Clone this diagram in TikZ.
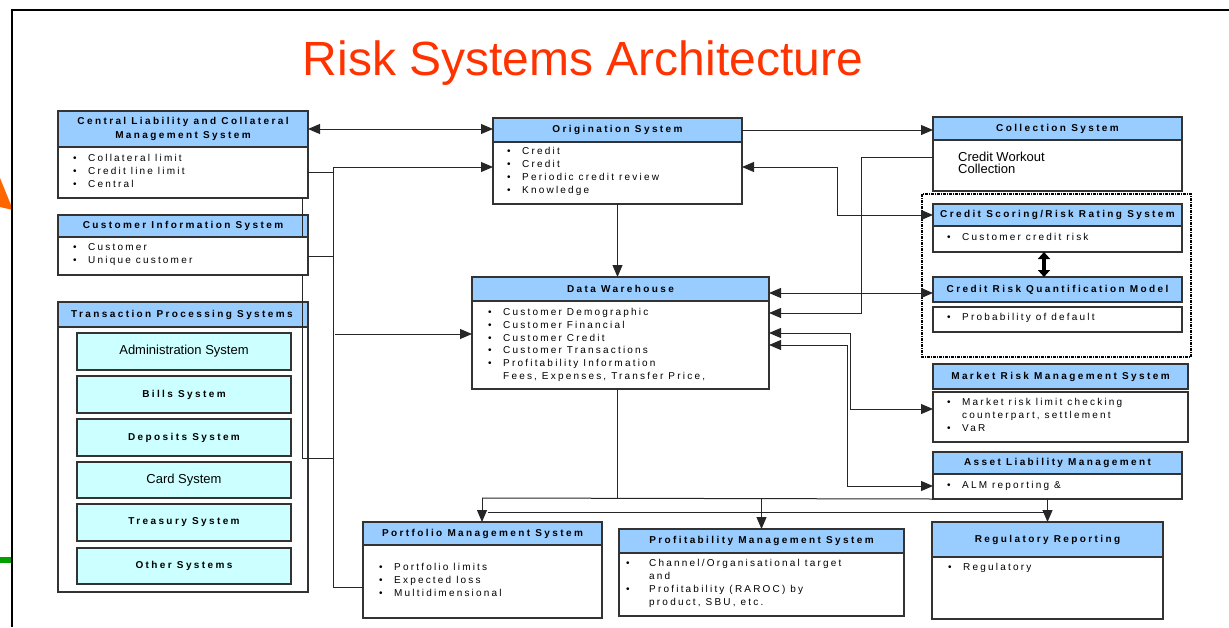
\documentclass[tikz,border=0pt]{standalone}
\usepackage{fontspec}
\setmainfont{Liberation Sans}
\newfontfamily\bodyfont[LetterSpace=22]{Liberation Sans}
\newfontfamily\headfont[LetterSpace=24]{Liberation Sans}
\usetikzlibrary{arrows.meta,calc}
\definecolor{hdrblue}{HTML}{99CCFF}
\definecolor{tpscyan}{HTML}{CCFFFF}
\definecolor{titlered}{HTML}{FF3300}
\definecolor{tabOrange}{HTML}{FF6600}
\definecolor{tabGreen}{HTML}{00A000}
\definecolor{edge}{HTML}{333333}
% bullet, continuation indent and first-line strut for the item lists
\newcommand\bul[1][15pt]{\makebox[#1][l]{•}}
\newcommand\cnt[1][15pt]{\hspace*{#1}}
\newcommand\fl{\rule{0pt}{8pt}}
\tikzset{
  hd/.style={draw=edge, fill=hdrblue, line width=1.2pt, inner sep=0pt, outer sep=0pt,
    anchor=north west, align=center, font=\headfont\bfseries\fontsize{10}{14}\selectfont},
  bd/.style={draw=edge, fill=white, line width=1.2pt, inner sep=0pt, outer sep=0pt, anchor=north west},
  sub/.style={draw=edge, fill=tpscyan, line width=1.2pt, inner sep=0pt, outer sep=0pt,
    anchor=north west, minimum width=214pt},
  subbold/.style={font=\headfont\bfseries\fontsize{10}{10}\selectfont},
  subplain/.style={font=\fontsize{13}{13}\selectfont},
  items/.style={anchor=north west, inner sep=0pt, align=left, text=black,
    font=\bodyfont\fontsize{10}{13}\selectfont},
  conn/.style={draw=black!85, line width=1pt},
  arr/.style={conn, -{Triangle[length=12pt,width=10pt]}},
  darr/.style={conn, {Triangle[length=12pt,width=10pt]}-{Triangle[length=12pt,width=10pt]}},
  fat/.style={draw=black, line width=3.5pt, {Triangle[length=7pt,width=12pt]}-{Triangle[length=7pt,width=12pt]}}
}
\begin{document}
\begin{tikzpicture}[x=1pt,y=-1pt]
\useasboundingbox (0,0) rectangle (1229,627);

% slide frame and side tabs
\fill[tabOrange] (0,178) -- (13,210) -- (0,207) -- cycle;
\fill[tabGreen] (0,557) rectangle (12,563);
\draw[line width=2.2pt] (12,627) -- (12,10) -- (1229,10);

\node[anchor=base, inner sep=0pt, text=titlered, font=\fontsize{48}{48}\selectfont] (title) at (583,75) {Risk Systems Architecture};

% Central Liability and Collateral Management System
\node[hd, minimum width=250pt, minimum height=36pt] (clh) at (58,111) {Central Liability and Collateral\\Management System};
\node[bd, minimum width=250pt, minimum height=51pt] (clb) at (58,147) {};
\node[items] (clt) at (73,153.5) {\fl\bul Collateral limit\\ \bul Credit line limit\\ \bul Central};

% Customer Information System
\node[hd, minimum width=250pt, minimum height=22pt] (cish) at (58,215) {Customer Information System};
\node[bd, minimum width=250pt, minimum height=38pt] (cisb) at (58,237) {};
\node[items] (cist) at (73,242.5) {\fl\bul Customer\\ \bul Unique customer};

% Transaction Processing Systems
\node[bd, minimum width=250pt, minimum height=265pt] (tpsb) at (58,327) {};
\node[hd, minimum width=250pt, minimum height=25pt] (tpsh) at (58,302) {};
\node[anchor=west, inner sep=0pt, font=\headfont\bfseries\fontsize{10}{10}\selectfont] (tpst) at (71,314.5) {Transaction Processing Systems};
\node[sub, minimum height=37pt, subplain] (adm) at (77,333) {Administration System};
\node[sub, minimum height=37pt, subbold] (bil) at (77,376) {Bills System};
\node[sub, minimum height=37pt, subbold] (dep) at (77,419) {Deposits System};
\node[sub, minimum height=36pt, subplain] (crd) at (77,462) {Card System};
\node[sub, minimum height=37pt, subbold] (tre) at (77,504) {Treasury System};
\node[sub, minimum height=36pt, subbold] (oth) at (77,548) {Other Systems};

% Origination System
\node[hd, minimum width=249pt, minimum height=24pt] (osh) at (493,118) {Origination System};
\node[bd, minimum width=249pt, minimum height=62pt] (osb) at (493,142) {};
\node[items] (ost) at (507,146.5) {\fl\bul Credit\\ \bul Credit\\ \bul Periodic credit review\\ \bul Knowledge};

% Data Warehouse
\node[hd, minimum width=297pt, minimum height=24pt] (dwh) at (472,277) {Data Warehouse};
\node[bd, minimum width=297pt, minimum height=88pt] (dwb) at (472,301) {};
\node[items, font=\bodyfont\fontsize{10}{12.7}\selectfont] (dwt) at (488,307.5) {\fl\bul Customer Demographic\\ \bul Customer Financial\\ \bul Customer Credit\\ \bul Customer Transactions\\ \bul Profitability Information\\ \cnt Fees, Expenses, Transfer Price,};

% Collection System
\node[hd, minimum width=249pt, minimum height=23pt] (csh) at (933,117) {Collection System};
\node[bd, minimum width=249pt, minimum height=51pt] (csb) at (933,140) {};
\node[anchor=north west, inner sep=0pt, align=left, font=\fontsize{13}{12}\selectfont] (cst) at (958,151.5) {\rule{0pt}{10pt}Credit Workout\\Collection};

% credit risk group
\draw[line width=1.1pt, dash pattern=on 3pt off 1pt on 1pt off 1pt] (922,194) rectangle (1191,357);
\node[hd, minimum width=249pt, minimum height=22pt] (csrh) at (933,204) {Credit Scoring/Risk Rating System};
\node[bd, minimum width=249pt, minimum height=26pt] (csrb) at (933,226) {};
\node[items] (csrt) at (947,232.5) {\fl\bul Customer credit risk};
\node[hd, minimum width=249pt, minimum height=25pt] (crqh) at (933,277) {Credit Risk Quantification Model};
\node[bd, minimum width=249pt, minimum height=25pt] (crqb) at (933,307) {};
\node[items] (crqt) at (947,312.5) {\fl\bul Probability of default};

% Market Risk Management System
\node[hd, minimum width=255pt, minimum height=25pt] (mrh) at (933,364) {Market Risk Management System};
\node[bd, minimum width=255pt, minimum height=50pt] (mrb) at (933,392) {};
\node[items] (mrt) at (947,397.5) {\fl\bul Market risk limit checking\\ \cnt counterpart, settlement\\ \bul VaR};

% Asset Liability Management
\node[hd, minimum width=249pt, minimum height=22pt] (almh) at (933,452) {Asset Liability Management};
\node[bd, minimum width=249pt, minimum height=25pt] (almb) at (933,474) {};
\node[items] (almt) at (947,480.5) {\fl\bul ALM reporting \&};

% Portfolio Management System
\node[hd, minimum width=239pt, minimum height=23pt] (pmh) at (363,522) {Portfolio Management System};
\node[bd, minimum width=239pt, minimum height=73pt] (pmb) at (363,545) {};
\node[items] (pmt) at (379,562.5) {\fl\bul Portfolio limits\\ \bul Expected loss\\ \bul Multidimensional};

% Profitability Management System
\node[hd, minimum width=285pt, minimum height=24pt] (prmh) at (619,529) {Profitability Management System};
\node[bd, minimum width=285pt, minimum height=63pt] (prmb) at (619,553) {};
\node[items] (prmt) at (626,558.5) {\fl\bul[23pt]Channel/Organisational target\\ \cnt[23pt]and\\ \bul[23pt]Profitability (RAROC) by\\ \cnt[23pt]product, SBU, etc.};

% Regulatory Reporting
\node[hd, minimum width=231pt, minimum height=35pt] (rrh) at (932,522) {Regulatory Reporting};
\node[bd, minimum width=231pt, minimum height=62pt] (rrb) at (932,557) {};
\node[items] (rrt) at (948,562.5) {\fl\bul Regulatory};

% ---- connectors ----
\coordinate (bustop) at (333,167);
\coordinate (busbot) at (333,587);
\coordinate (busdw) at (335,334);
\coordinate (tpsx) at (302,458);

\draw[darr] (clh.east) -- (clh.east -| osh.west);
\draw[arr] (osh.east) -- (osh.east -| csh.west);

\draw[conn] (clb.east) -- (clb.east -| bustop);
\draw[conn] (cisb.east) -- (cisb.east -| bustop);
\draw[conn] (clb.south -| tpsx) -- (cish.south -| tpsx);
\draw[conn] (cisb.south -| tpsx) -- (tpsx) -- (tpsx -| bustop);
\draw[arr] (busbot) -- (bustop) -- (bustop -| osb.west);
\draw[conn] (busbot) -- (busbot -| pmb.west);
\draw[arr] (busdw) -- (busdw -| dwb.west);

\draw[arr] (osb.south) -- (osb.south |- dwh.north);

% distribution below the warehouse
\coordinate (dj) at (617,498);
\coordinate (d1) at (482,498);
\coordinate (d2) at (488,512);
\draw[conn] (dwb.south -| dj) -- (dj);
\draw[conn] (d1) -- (almb.south west);
\draw[arr] (d1) -- (d1 |- pmh.north);
\draw[arr] (prmh.north |- d1) -- (prmh.north);
\draw[conn] (d2) -- (d2 -| rrh.north);
\draw[arr] (almb.south -| rrh.north) -- (rrh.north);

% right-hand feeds
\coordinate (csj) at (861,157);
\coordinate (csd) at (861,313);
\draw[arr] (csj -| csb.west) -- (csj) -- (csd) -- (csd -| dwb.east);

\coordinate (sj1) at (837,215);
\coordinate (sj2) at (837,167);
\draw[darr] (sj2 -| osb.east) -- (sj2) -- (sj1) -- (sj1 -| csrh.west);

\coordinate (qj) at (848,293);
\draw[darr] (qj -| dwh.east) -- (qj -| crqh.west);

\coordinate (mj) at (850,333);
\coordinate (mj2) at (850,409);
\draw[darr] (mj -| dwb.east) -- (mj) -- (mj2) -- (mj2 -| mrb.west);

\coordinate (aj) at (847,345);
\coordinate (aj2) at (847,486);
\draw[darr] (aj -| dwb.east) -- (aj) -- (aj2) -- (aj2 -| almb.west);

\coordinate (qx) at (1044,265);
\draw[fat] (csrb.south -| qx) -- (crqh.north -| qx);
\end{tikzpicture}
\end{document}
